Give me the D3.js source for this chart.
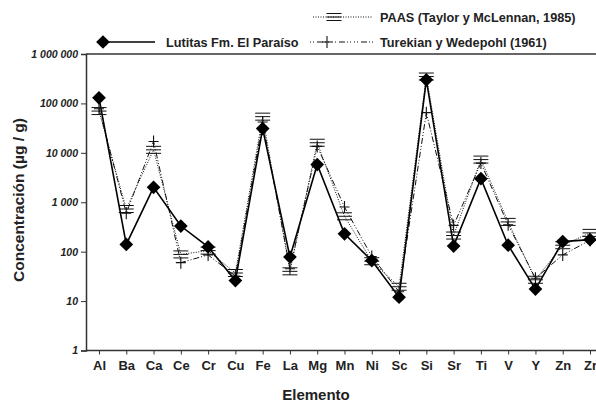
<!DOCTYPE html>
<html><head><meta charset="utf-8">
<script src="https://cdn.jsdelivr.net/npm/d3@7"></script>
<style>
body{margin:0;background:#fff;}
svg text{font-family:"Liberation Sans",Arial,sans-serif;fill:#222;}
</style></head>
<body><svg id="c" width="596" height="405"></svg>
<script>
const elements = ["Al","Ba","Ca","Ce","Cr","Cu","Fe","La","Mg","Mn","Ni","Sc","Si","Sr","Ti","V","Y","Zn","Zr"];
const lutitas  = [130000,140,2000,330,125,26,31000,78,5800,230,66,12,300000,130,3000,135,17.5,160,175];
const paas     = [70000,730,11500,88,105,37,54000,40,16000,520,64,19.5,350000,212,7300,400,27,135,240];
const turekian = [78000,600,17000,60,86,32,42000,45,13500,800,80,15.5,65000,340,6200,350,29,86,170];
const yTicks = [1,10,100,1000,10000,100000,1000000];
const yTickLabels = ["1","10","100","1 000","10 000","100 000","1 000 000"];

const svg = d3.select("#c");
const mLeft = 86, mRight = 596, mTop = 54, mBottom = 350.5;
const x = d3.scalePoint().domain(elements).range([99, 590]);
const y = d3.scaleLog().domain([1, 1000000]).range([mBottom, mTop]);

// frame top line
svg.append("line").attr("x1", mLeft).attr("x2", mRight).attr("y1", mTop).attr("y2", mTop)
  .attr("stroke", "#333").attr("stroke-width", 1.5);

// Y axis
const ya = svg.append("g").attr("transform", `translate(${mLeft},0)`)
  .call(d3.axisLeft(y).tickValues(yTicks).tickFormat((d,i) => yTickLabels[i]).tickSize(5).tickPadding(3));
ya.select(".domain").attr("stroke", "#333").attr("stroke-width", 1.5);
ya.selectAll(".tick line").attr("stroke", "#333");
ya.selectAll(".tick text").style("font-size", "10.5px").style("font-weight", "bold")
  .style("font-style", "italic").attr("fill", "#222");

// X axis
const xa = svg.append("g").attr("transform", `translate(0,${mBottom})`)
  .call(d3.axisBottom(x).tickSize(4).tickPadding(6));
xa.select(".domain").attr("d", `M${mLeft},0H${mRight}`).attr("stroke", "#333").attr("stroke-width", 1.5);
xa.selectAll(".tick line").attr("stroke", "#333");
xa.selectAll(".tick text").style("font-size", "13px").style("font-weight", "bold").attr("fill", "#222");

// Titles
svg.append("text").attr("transform", "translate(24,200) rotate(-90)").attr("text-anchor", "middle")
  .style("font-size", "15.5px").style("font-weight", "bold").text("Concentración (µg / g)");
svg.append("text").attr("x", 316).attr("y", 400).attr("text-anchor", "middle")
  .style("font-size", "15px").style("font-weight", "bold").text("Elemento");

const line = arr => d3.line().x((d,i) => x(elements[i])).y(d => y(d))(arr);

// Series lines
svg.append("path").attr("d", line(paas)).attr("fill", "none").attr("stroke", "#111")
  .attr("stroke-width", 1).attr("stroke-dasharray", "1,1.5");
svg.append("path").attr("d", line(turekian)).attr("fill", "none").attr("stroke", "#111")
  .attr("stroke-width", 1).attr("stroke-dasharray", "6,2,1,2,1,2");
svg.append("path").attr("d", line(lutitas)).attr("fill", "none").attr("stroke", "#000")
  .attr("stroke-width", 1.6);

function triple(g, cx, cy) {
  [-3.5, 0, 3.5].forEach(o => g.append("line").attr("x1", cx-7.5).attr("x2", cx+7.5)
    .attr("y1", cy+o).attr("y2", cy+o).attr("stroke", "#111").attr("stroke-width", 1));
}
function plus(g, cx, cy) {
  g.append("path").attr("d", `M${cx-5},${cy}H${cx+5}M${cx},${cy-6}V${cy+6}`)
    .attr("stroke", "#111").attr("stroke-width", 1.1).attr("fill", "none");
}
const diamond = d3.symbol().type(d3.symbolDiamond2).size(120)();

const gp = svg.append("g");
paas.forEach((v,i) => triple(gp, x(elements[i]), y(v)));
const gt = svg.append("g");
turekian.forEach((v,i) => plus(gt, x(elements[i]), y(v)));
svg.append("g").selectAll("path").data(lutitas).join("path")
  .attr("d", diamond).attr("transform", (d,i) => `translate(${x(elements[i])},${y(d)})`).attr("fill", "#000");

// Legend
const lg = svg.append("g");
lg.append("line").attr("x1", 313).attr("x2", 373).attr("y1", 17).attr("y2", 17)
  .attr("stroke", "#111").attr("stroke-dasharray", "1,1.5");
triple(lg, 334, 17);
lg.append("text").attr("x", 380).attr("y", 21.5).style("font-size", "12.7px").style("font-weight", "bold")
  .text("PAAS (Taylor y McLennan, 1985)");

lg.append("line").attr("x1", 103).attr("x2", 155).attr("y1", 42).attr("y2", 42)
  .attr("stroke", "#000").attr("stroke-width", 1.6);
lg.append("path").attr("d", diamond).attr("transform", "translate(103,42)").attr("fill", "#000");
lg.append("text").attr("x", 166).attr("y", 46.5).style("font-size", "12.7px").style("font-weight", "bold")
  .text("Lutitas Fm. El Paraíso");

lg.append("line").attr("x1", 310).attr("x2", 373).attr("y1", 42).attr("y2", 42)
  .attr("stroke", "#111").attr("stroke-dasharray", "1,2,1,3,6,2,1,2,1,3");
plus(lg, 327, 42);
lg.append("text").attr("x", 380).attr("y", 46.5).style("font-size", "12.7px").style("font-weight", "bold")
  .text("Turekian y Wedepohl (1961)");
</script></body></html>
